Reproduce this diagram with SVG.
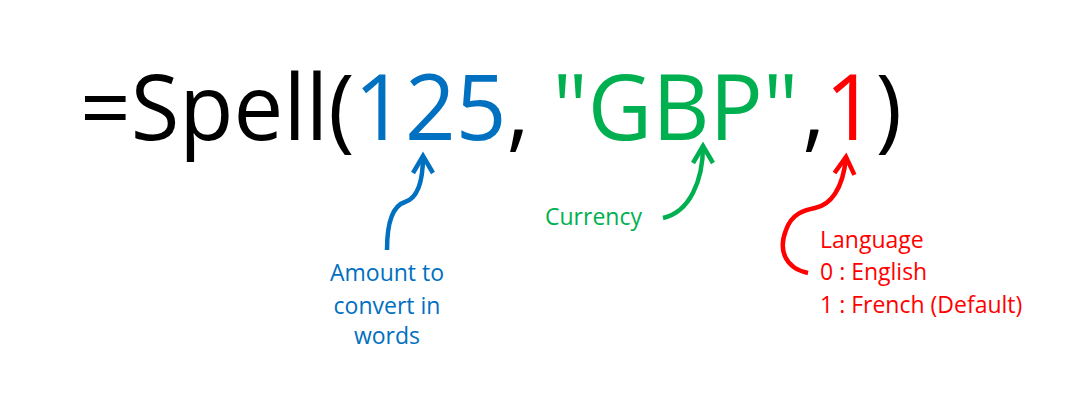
<svg xmlns="http://www.w3.org/2000/svg" width="1079" height="417" viewBox="0 0 1079 417">
<style>
.big{font-family:"Open Sans","Noto Sans",sans-serif;font-size:91px;fill:#000}
.lbl{font-family:"Open Sans","Noto Sans",sans-serif;font-size:23px}
.blue{fill:#0070C0}.green{fill:#00B050}.red{fill:#FF0000}
.conn{fill:none;stroke-width:4.5;stroke-linecap:butt}
</style>
<defs>
<marker id="hb" markerUnits="userSpaceOnUse" viewBox="-25 -15 30 30" refX="0" refY="0" markerWidth="30" markerHeight="30" orient="auto" overflow="visible"><path d="M-17,-10 L0,0 L-17,10" fill="none" stroke="#0070C0" stroke-width="4.5"/></marker>
<marker id="hg" markerUnits="userSpaceOnUse" viewBox="-25 -15 30 30" refX="0" refY="0" markerWidth="30" markerHeight="30" orient="auto" overflow="visible"><path d="M-17,-10 L0,0 L-17,10" fill="none" stroke="#00B050" stroke-width="4.5"/></marker>
<marker id="hr" markerUnits="userSpaceOnUse" viewBox="-25 -15 30 30" refX="0" refY="0" markerWidth="30" markerHeight="30" orient="auto" overflow="visible"><path d="M-17,-10 L0,0 L-17,10" fill="none" stroke="#FF0000" stroke-width="4.5"/></marker>
</defs>
<rect width="1079" height="417" fill="#fff"/>
<g id="formula">
<text class="big" x="80" y="140" textLength="822" lengthAdjust="spacingAndGlyphs">=Spell(<tspan class="blue">125</tspan>, <tspan class="green">"GBP"</tspan><tspan dx="4">,</tspan><tspan class="red">1</tspan>)</text>
</g>
<g id="amount">
<text class="lbl blue" text-anchor="middle" x="387" y="281">Amount to</text>
<text class="lbl blue" text-anchor="middle" x="387" y="314">convert in</text>
<text class="lbl blue" text-anchor="middle" x="387" y="344">words</text>
</g>
<g id="currency">
<text class="lbl green" x="545" y="225">Currency</text>
</g>
<g id="language">
<text class="lbl red" x="820" y="248">Language</text>
<text class="lbl red" x="820" y="280">0 : English</text>
<text class="lbl red" x="820" y="313">1 : French (Default)</text>
</g>
<g id="connectors">
<path class="conn" stroke="#0070C0" d="M387,250 C387,225 392,206 405,202 C418,198 423,180 423,156" marker-end="url(#hb)"/>
<path class="conn" stroke="#00B050" d="M663,218 C690,212 703,180 703,146" marker-end="url(#hg)"/>
<path class="conn" stroke="#FF0000" d="M808,273 C785,268 778,250 786,230 C792,213 805,210 815,208 C830,205 843,190 846,157" marker-end="url(#hr)"/>
</g>
</svg>
